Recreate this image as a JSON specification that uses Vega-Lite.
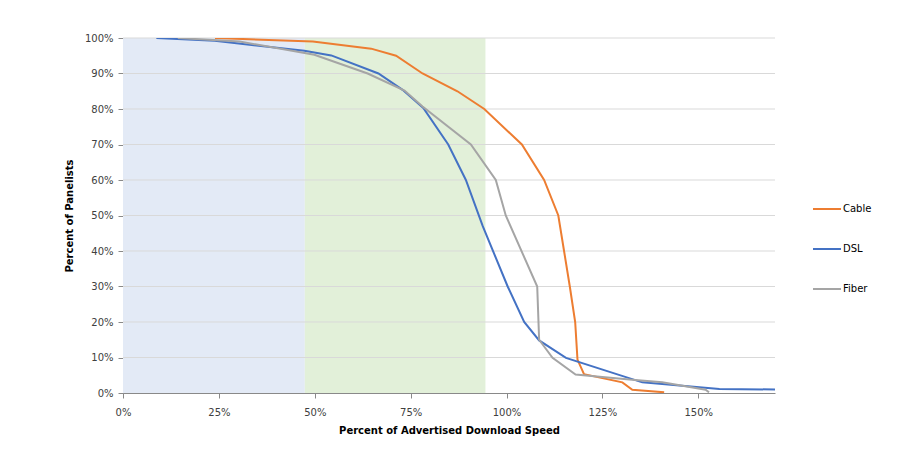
{
  "$schema": "https://vega.github.io/schema/vega-lite/v6.json",
  "width": 652,
  "height": 355,
  "autosize": {"type": "none"},
  "padding": {"left": 123, "top": 38, "right": 128, "bottom": 59},
  "background": "white",
  "config": {
    "view": {"stroke": null},
    "font": "DejaVu Sans",
    "axis": {
      "grid": false,
      "domainColor": "#898989",
      "tickColor": "#898989",
      "tickSize": 5,
      "labelFontSize": 10,
      "labelColor": "#404040",
      "labelFlush": false,
      "titleFontSize": 10,
      "titleFontWeight": "bold",
      "titleColor": "#000000"
    },
    "axisX": {"labelPadding": 9, "titlePadding": 8},
    "axisY": {"labelPadding": 5, "titlePadding": 10}
  },
  "resolve": {"scale": {"color": "independent"}},
  "layer": [
    {
      "data": {"values": [
        {"zone": "a", "x0": 0, "x1": 47.4},
        {"zone": "b", "x0": 47.4, "x1": 94.5}
      ]},
      "mark": {"type": "rect"},
      "encoding": {
        "x": {
          "field": "x0", "type": "quantitative", "scale": {"domain": [0, 170], "nice": false},
          "title": "Percent of Advertised Download Speed",
          "axis": {"values": [0, 25, 50, 75, 100, 125, 150], "labelExpr": "datum.value + '%'"}
        },
        "x2": {"field": "x1"},
        "y": {
          "datum": 0, "type": "quantitative", "scale": {"domain": [0, 100], "nice": false},
          "title": "Percent of Panelists",
          "axis": {"values": [0, 10, 20, 30, 40, 50, 60, 70, 80, 90, 100], "labelExpr": "datum.value + '%'"}
        },
        "y2": {"datum": 100},
        "color": {"field": "zone", "type": "nominal", "scale": {"domain": ["a", "b"], "range": ["#E3EAF6", "#E2F0D9"]}, "legend": null}
      }
    },
    {
      "data": {"values": [{"g": 10}, {"g": 20}, {"g": 30}, {"g": 40}, {"g": 50}, {"g": 60}, {"g": 70}, {"g": 80}, {"g": 90}, {"g": 100}]},
      "mark": {"type": "rule", "color": "#D9D9D9", "strokeWidth": 1},
      "encoding": {
        "y": {"field": "g", "type": "quantitative", "title": "Percent of Panelists",
          "axis": {"values": [0, 10, 20, 30, 40, 50, 60, 70, 80, 90, 100], "labelExpr": "datum.value + '%'"}}
      }
    },
    {
      "data": {"values": [
        {"s": "Cable", "o": 1, "x": 24, "y": 100},
        {"s": "Cable", "o": 2, "x": 49.5, "y": 99},
        {"s": "Cable", "o": 3, "x": 64.7, "y": 97},
        {"s": "Cable", "o": 4, "x": 71.2, "y": 95},
        {"s": "Cable", "o": 5, "x": 78.1, "y": 90},
        {"s": "Cable", "o": 6, "x": 87.2, "y": 85},
        {"s": "Cable", "o": 7, "x": 94.2, "y": 80},
        {"s": "Cable", "o": 8, "x": 104, "y": 70},
        {"s": "Cable", "o": 9, "x": 109.8, "y": 60},
        {"s": "Cable", "o": 10, "x": 113.5, "y": 50},
        {"s": "Cable", "o": 11, "x": 115, "y": 40},
        {"s": "Cable", "o": 12, "x": 116.5, "y": 30},
        {"s": "Cable", "o": 13, "x": 117.9, "y": 20},
        {"s": "Cable", "o": 14, "x": 118.5, "y": 9.4},
        {"s": "Cable", "o": 15, "x": 120.2, "y": 5.3},
        {"s": "Cable", "o": 16, "x": 130.2, "y": 3},
        {"s": "Cable", "o": 17, "x": 132.8, "y": 0.9},
        {"s": "Cable", "o": 18, "x": 141.1, "y": 0.2},
        {"s": "DSL", "o": 1, "x": 8.7, "y": 100},
        {"s": "DSL", "o": 2, "x": 23.9, "y": 99.2},
        {"s": "DSL", "o": 3, "x": 47.3, "y": 96.4},
        {"s": "DSL", "o": 4, "x": 54.3, "y": 95.1},
        {"s": "DSL", "o": 5, "x": 66.6, "y": 90},
        {"s": "DSL", "o": 6, "x": 72.9, "y": 85.4},
        {"s": "DSL", "o": 7, "x": 78.3, "y": 80.3},
        {"s": "DSL", "o": 8, "x": 84.8, "y": 70},
        {"s": "DSL", "o": 9, "x": 89.4, "y": 60},
        {"s": "DSL", "o": 10, "x": 93.8, "y": 47},
        {"s": "DSL", "o": 11, "x": 100.3, "y": 30},
        {"s": "DSL", "o": 12, "x": 104.6, "y": 20},
        {"s": "DSL", "o": 13, "x": 108.5, "y": 14.8},
        {"s": "DSL", "o": 14, "x": 115.5, "y": 9.9},
        {"s": "DSL", "o": 15, "x": 135.4, "y": 3},
        {"s": "DSL", "o": 16, "x": 155.5, "y": 1.1},
        {"s": "DSL", "o": 17, "x": 170, "y": 1},
        {"s": "Fiber", "o": 1, "x": 14.3, "y": 100},
        {"s": "Fiber", "o": 2, "x": 30.4, "y": 99},
        {"s": "Fiber", "o": 3, "x": 49.9, "y": 95.3},
        {"s": "Fiber", "o": 4, "x": 63.8, "y": 90},
        {"s": "Fiber", "o": 5, "x": 73.4, "y": 85.2},
        {"s": "Fiber", "o": 6, "x": 78.1, "y": 80.7},
        {"s": "Fiber", "o": 7, "x": 90.7, "y": 70},
        {"s": "Fiber", "o": 8, "x": 97.2, "y": 60},
        {"s": "Fiber", "o": 9, "x": 99.8, "y": 50},
        {"s": "Fiber", "o": 10, "x": 108, "y": 30},
        {"s": "Fiber", "o": 11, "x": 108.5, "y": 15},
        {"s": "Fiber", "o": 12, "x": 112, "y": 9.9},
        {"s": "Fiber", "o": 13, "x": 118, "y": 5.2},
        {"s": "Fiber", "o": 14, "x": 132, "y": 3.8},
        {"s": "Fiber", "o": 15, "x": 140.6, "y": 3},
        {"s": "Fiber", "o": 16, "x": 151.9, "y": 0.9},
        {"s": "Fiber", "o": 17, "x": 152.8, "y": 0.2}
      ]},
      "mark": {"type": "line", "strokeWidth": 2, "clip": true},
      "encoding": {
        "x": {"field": "x", "type": "quantitative", "title": "Percent of Advertised Download Speed",
          "axis": {"values": [0, 25, 50, 75, 100, 125, 150], "labelExpr": "datum.value + '%'"}},
        "y": {"field": "y", "type": "quantitative", "title": "Percent of Panelists",
          "axis": {"values": [0, 10, 20, 30, 40, 50, 60, 70, 80, 90, 100], "labelExpr": "datum.value + '%'"}},
        "order": {"field": "o", "type": "quantitative"},
        "color": {
          "field": "s", "type": "nominal",
          "scale": {"domain": ["Cable", "DSL", "Fiber"], "range": ["#ED7D31", "#4472C4", "#A5A5A5"]},
          "legend": {
            "title": null,
            "orient": "none",
            "legendX": 689,
            "legendY": 156,
            "padding": 0,
            "symbolType": "stroke",
            "symbolStrokeWidth": 2,
            "symbolSize": 784,
            "rowPadding": 20,
            "labelOffset": 1,
            "labelFontSize": 10,
            "labelColor": "#000000"
          }
        }
      }
    }
  ]
}
